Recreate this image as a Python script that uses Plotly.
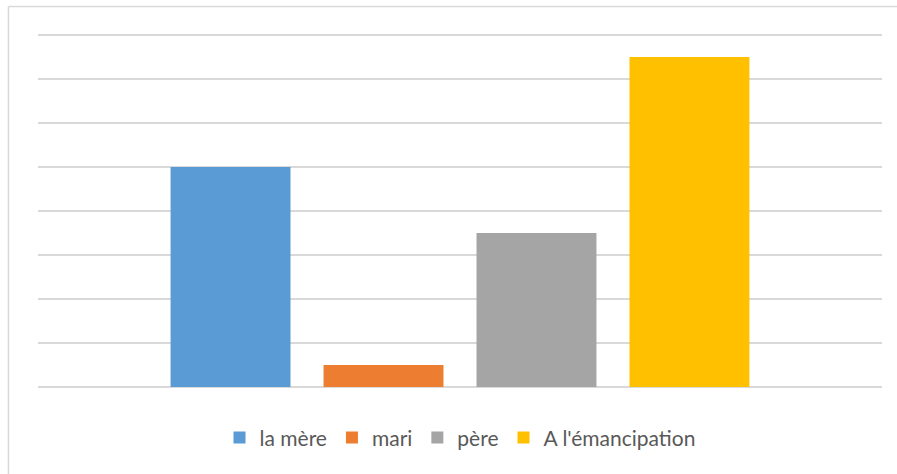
import plotly.graph_objects as go

# Series names, values and colours
series = ["la mère", "mari", "père", "A l'émancipation"]
values = [5, 0.5, 3.5, 7.5]
colors = ["#5b9bd5", "#ed7d31", "#a5a5a5", "#ffc000"]
category = [""]

fig = go.Figure()
for name, val, col in zip(series, values, colors):
    fig.add_trace(go.Bar(x=category, y=[val], name=name, marker=dict(color=col, line=dict(width=0))))

# frame of the chart area: top and left edges (the others run off the page)
border = dict(color="#d9d9d9", width=1.5)
frame_top = 1.069
frame_left = -0.035

fig.update_layout(
    width=897,
    height=474,
    margin=dict(l=38, r=15, t=31, b=87),
    paper_bgcolor="white",
    plot_bgcolor="white",
    barmode="group",
    bargap=0.275,
    bargroupgap=0.216,
    showlegend=True,
    legend=dict(
        orientation="h",
        x=0.5,
        xanchor="center",
        y=-0.143,
        yanchor="middle",
        font=dict(family="Lato", size=21, color="#595959"),
        itemwidth=30,
        tracegroupgap=0,
    ),
    xaxis=dict(showticklabels=False, showgrid=False, zeroline=False, showline=False, ticks=""),
    yaxis=dict(
        range=[0, 8 + 4 / 44],
        tickvals=[1, 2, 3, 4, 5, 6, 7, 8],
        showticklabels=False,
        showgrid=True,
        gridcolor="#d9d9d9",
        gridwidth=1.5,
        zeroline=True,
        zerolinecolor="#d9d9d9",
        zerolinewidth=1.5,
        ticks="",
    ),
    shapes=[
        dict(type="line", xref="paper", yref="paper", x0=frame_left, x1=1.5, y0=frame_top, y1=frame_top,
             line=border, layer="below"),
        dict(type="line", xref="paper", yref="paper", x0=frame_left, x1=frame_left, y0=-0.5, y1=frame_top,
             line=border, layer="below"),
    ],
)

fig.write_html("out.html")
